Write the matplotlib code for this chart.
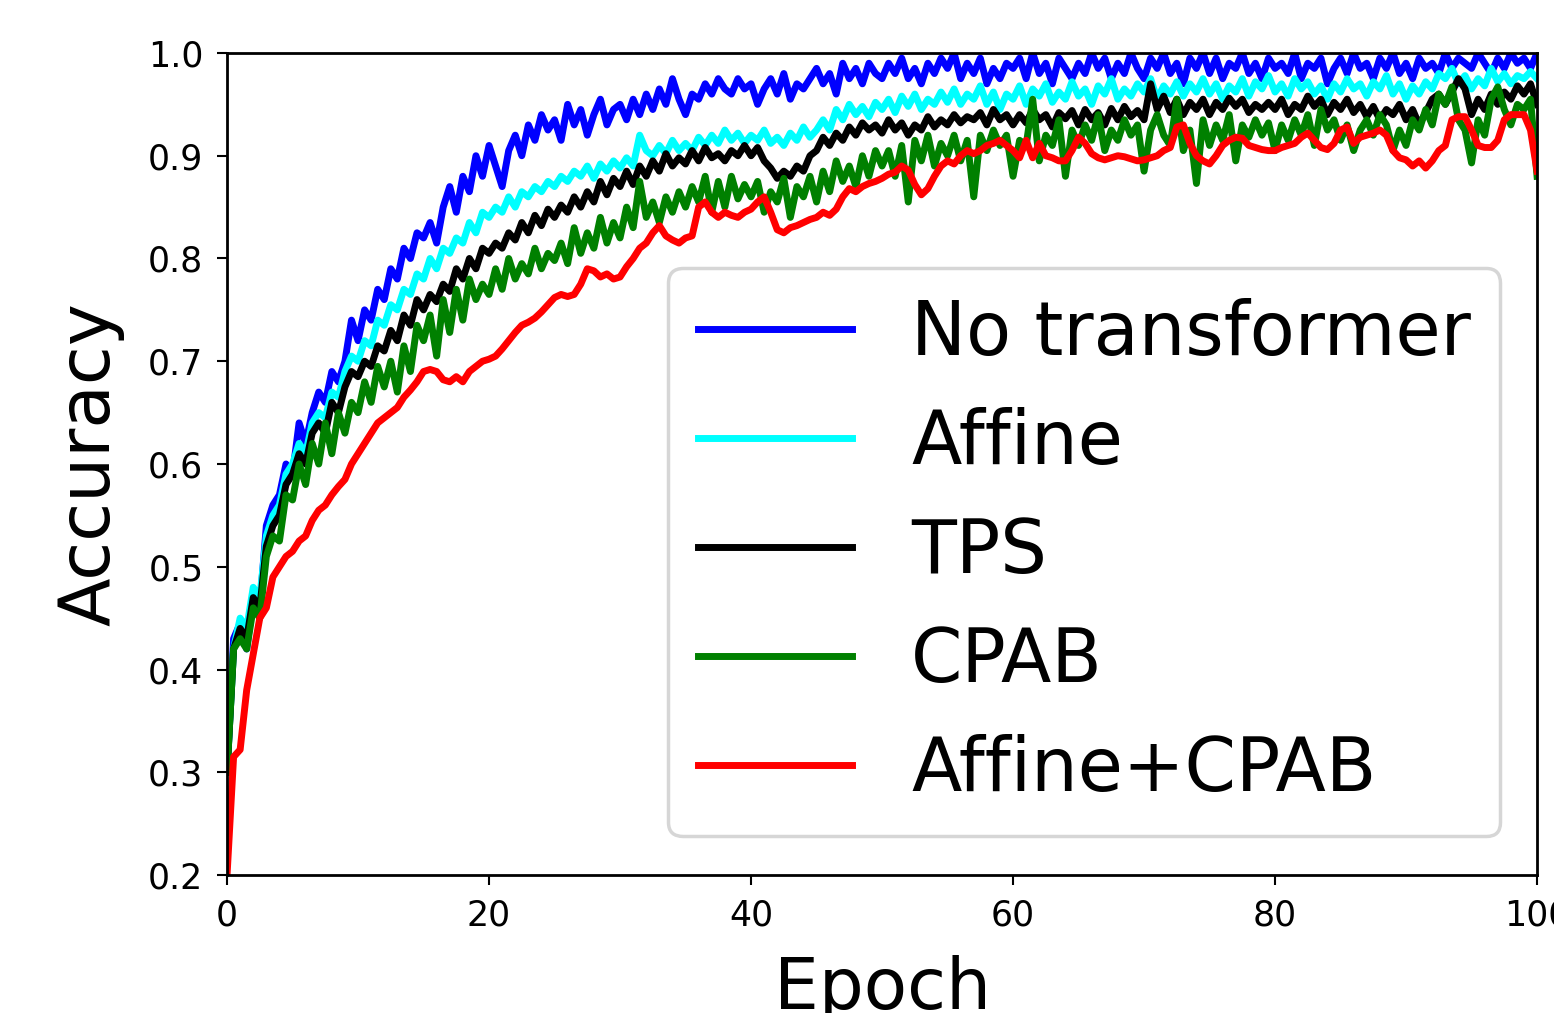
import numpy as np
import matplotlib
matplotlib.use('Agg')
import matplotlib.pyplot as plt

# accuracy per half epoch
no_transformer = [
    0.300, 0.430, 0.445, 0.420, 0.470, 0.460, 0.540, 0.560, 0.570, 0.600,
    0.590, 0.640, 0.620, 0.650, 0.670, 0.660, 0.690, 0.680, 0.700, 0.740,
    0.720, 0.750, 0.740, 0.770, 0.760, 0.790, 0.780, 0.810, 0.800, 0.825,
    0.820, 0.835, 0.815, 0.850, 0.870, 0.845, 0.880, 0.865, 0.900, 0.880,
    0.910, 0.890, 0.870, 0.905, 0.920, 0.900, 0.930, 0.915, 0.940, 0.925,
    0.935, 0.915, 0.950, 0.930, 0.945, 0.920, 0.940, 0.955, 0.930, 0.945,
    0.950, 0.935, 0.955, 0.940, 0.960, 0.945, 0.965, 0.950, 0.975, 0.955,
    0.940, 0.960, 0.955, 0.970, 0.960, 0.975, 0.965, 0.960, 0.975, 0.965,
    0.970, 0.950, 0.965, 0.975, 0.960, 0.980, 0.955, 0.970, 0.965, 0.975,
    0.985, 0.970, 0.980, 0.960, 0.990, 0.975, 0.985, 0.970, 0.990, 0.980,
    0.975, 0.990, 0.980, 0.995, 0.975, 0.985, 0.970, 0.990, 0.980, 0.995,
    0.985, 1.000, 0.975, 0.990, 0.980, 0.995, 0.970, 0.985, 0.975, 0.990,
    0.985, 0.995, 0.975, 1.000, 0.980, 0.990, 0.970, 0.995, 0.985, 0.975,
    0.990, 0.980, 1.000, 0.985, 0.995, 0.975, 0.990, 0.980, 1.000, 0.985,
    0.975, 0.995, 0.985, 1.000, 0.980, 0.990, 0.970, 0.995, 0.985, 1.000,
    0.980, 0.995, 0.975, 0.990, 0.985, 1.000, 0.980, 0.990, 0.975, 0.995,
    0.985, 0.990, 0.980, 1.000, 0.975, 0.990, 0.985, 0.995, 0.970, 0.985,
    0.995, 0.980, 1.000, 0.985, 0.990, 0.975, 0.995, 0.985, 1.000, 0.980,
    0.990, 0.975, 0.995, 0.985, 0.990, 0.980, 1.000, 0.985, 0.995, 0.990,
    0.985, 1.000, 0.990, 0.980, 0.995, 0.985, 1.000, 0.990, 0.995, 0.985,
    1.000,
]

affine = [
    0.300, 0.420, 0.450, 0.440, 0.480, 0.470, 0.530, 0.550, 0.560, 0.590,
    0.600, 0.620, 0.610, 0.640, 0.650, 0.645, 0.670, 0.665, 0.690, 0.705,
    0.700, 0.720, 0.715, 0.740, 0.735, 0.755, 0.750, 0.770, 0.765, 0.785,
    0.780, 0.800, 0.790, 0.810, 0.805, 0.820, 0.815, 0.835, 0.825, 0.845,
    0.840, 0.850, 0.845, 0.860, 0.850, 0.865, 0.860, 0.870, 0.865, 0.875,
    0.870, 0.880, 0.875, 0.885, 0.880, 0.890, 0.878, 0.892, 0.885, 0.895,
    0.888, 0.898, 0.890, 0.920, 0.905, 0.900, 0.910, 0.902, 0.915, 0.905,
    0.912, 0.905, 0.918, 0.910, 0.920, 0.912, 0.925, 0.915, 0.922, 0.912,
    0.920, 0.915, 0.925, 0.912, 0.918, 0.910, 0.922, 0.915, 0.928, 0.918,
    0.925, 0.935, 0.925, 0.945, 0.935, 0.950, 0.940, 0.948, 0.938, 0.952,
    0.945, 0.955, 0.942, 0.958, 0.948, 0.960, 0.945, 0.955, 0.950, 0.962,
    0.952, 0.965, 0.950, 0.960, 0.955, 0.968, 0.950, 0.962, 0.945, 0.960,
    0.955, 0.968, 0.950, 0.965, 0.958, 0.970, 0.952, 0.962, 0.955, 0.972,
    0.958, 0.965, 0.950, 0.968, 0.960, 0.975, 0.955, 0.965, 0.958, 0.970,
    0.962, 0.975, 0.955, 0.968, 0.960, 0.972, 0.958, 0.970, 0.962, 0.975,
    0.960, 0.970, 0.955, 0.968, 0.962, 0.975, 0.958, 0.972, 0.965, 0.978,
    0.962, 0.970, 0.958, 0.975, 0.965, 0.972, 0.960, 0.968, 0.955, 0.970,
    0.962, 0.975, 0.965, 0.970, 0.958, 0.972, 0.965, 0.978, 0.960, 0.970,
    0.955, 0.968, 0.960, 0.972, 0.965, 0.980, 0.975, 0.985, 0.970, 0.978,
    0.965, 0.975, 0.968, 0.985, 0.972, 0.980, 0.970, 0.978, 0.975, 0.982,
    0.975,
]

tps = [
    0.300, 0.420, 0.440, 0.430, 0.470, 0.460, 0.520, 0.540, 0.550, 0.580,
    0.590, 0.610, 0.600, 0.630, 0.640, 0.630, 0.660, 0.650, 0.675, 0.690,
    0.685, 0.700, 0.695, 0.715, 0.710, 0.730, 0.720, 0.745, 0.735, 0.760,
    0.750, 0.765, 0.758, 0.775, 0.768, 0.790, 0.780, 0.800, 0.790, 0.810,
    0.805, 0.815, 0.810, 0.825, 0.818, 0.835, 0.825, 0.842, 0.832, 0.848,
    0.840, 0.852, 0.845, 0.860, 0.850, 0.865, 0.855, 0.875, 0.862, 0.878,
    0.870, 0.885, 0.872, 0.890, 0.880, 0.895, 0.885, 0.902, 0.890, 0.898,
    0.892, 0.905, 0.895, 0.908, 0.898, 0.902, 0.895, 0.905, 0.900, 0.910,
    0.900, 0.908, 0.895, 0.888, 0.878, 0.885, 0.880, 0.890, 0.885, 0.900,
    0.905, 0.918, 0.910, 0.922, 0.915, 0.928, 0.920, 0.932, 0.925, 0.930,
    0.922, 0.935, 0.925, 0.932, 0.920, 0.930, 0.925, 0.938, 0.928, 0.935,
    0.930, 0.940, 0.932, 0.938, 0.935, 0.942, 0.930, 0.945, 0.935, 0.940,
    0.930, 0.940, 0.932, 0.945, 0.935, 0.940, 0.928, 0.942, 0.936, 0.944,
    0.930, 0.945, 0.935, 0.942, 0.930, 0.946, 0.935, 0.948, 0.938, 0.944,
    0.935, 0.970, 0.945, 0.958, 0.942, 0.955, 0.940, 0.952, 0.945, 0.955,
    0.940, 0.952, 0.945, 0.956, 0.948, 0.955, 0.942, 0.950, 0.945, 0.952,
    0.945, 0.955, 0.940, 0.950, 0.945, 0.958, 0.948, 0.955, 0.940, 0.952,
    0.945, 0.955, 0.942, 0.950, 0.938, 0.948, 0.935, 0.945, 0.940, 0.950,
    0.935, 0.945, 0.930, 0.942, 0.955, 0.960, 0.950, 0.962, 0.975, 0.965,
    0.940, 0.955, 0.945, 0.960, 0.950, 0.962, 0.955, 0.968, 0.960, 0.970,
    0.950,
]

cpab = [
    0.300, 0.420, 0.430, 0.420, 0.460, 0.450, 0.510, 0.530, 0.525, 0.570,
    0.565, 0.600, 0.580, 0.620, 0.600, 0.640, 0.610, 0.650, 0.630, 0.660,
    0.650, 0.680, 0.660, 0.695, 0.675, 0.700, 0.670, 0.715, 0.690, 0.735,
    0.720, 0.745, 0.705, 0.760, 0.728, 0.770, 0.740, 0.780, 0.760, 0.775,
    0.765, 0.790, 0.770, 0.800, 0.780, 0.795, 0.785, 0.810, 0.790, 0.805,
    0.798, 0.815, 0.795, 0.830, 0.805, 0.825, 0.810, 0.840, 0.815, 0.835,
    0.820, 0.850, 0.830, 0.875, 0.840, 0.855, 0.835, 0.860, 0.845, 0.865,
    0.850, 0.870, 0.855, 0.880, 0.845, 0.875, 0.850, 0.880, 0.858, 0.872,
    0.860, 0.875, 0.845, 0.865, 0.855, 0.878, 0.840, 0.870, 0.860, 0.880,
    0.855, 0.885, 0.865, 0.895, 0.875, 0.890, 0.870, 0.900, 0.880, 0.905,
    0.890, 0.905, 0.880, 0.910, 0.855, 0.915, 0.895, 0.920, 0.890, 0.912,
    0.900, 0.920, 0.895, 0.915, 0.860, 0.920, 0.905, 0.925, 0.910, 0.920,
    0.880, 0.915, 0.910, 0.955, 0.895, 0.920, 0.910, 0.935, 0.880, 0.925,
    0.910, 0.930, 0.915, 0.940, 0.905, 0.925, 0.915, 0.935, 0.920, 0.930,
    0.885, 0.925, 0.940, 0.920, 0.910, 0.955, 0.905, 0.925, 0.873, 0.935,
    0.910, 0.930, 0.915, 0.940, 0.895, 0.930, 0.918, 0.935, 0.920, 0.932,
    0.905, 0.930, 0.915, 0.935, 0.920, 0.940, 0.910, 0.945, 0.925, 0.935,
    0.915, 0.930, 0.905, 0.925, 0.935, 0.920, 0.940, 0.930, 0.905, 0.925,
    0.910, 0.935, 0.925, 0.945, 0.930, 0.960, 0.950, 0.967, 0.935, 0.925,
    0.893, 0.935, 0.920, 0.955, 0.967, 0.945, 0.930, 0.950, 0.945, 0.955,
    0.880,
]

affine_cpab = [
    0.200, 0.315, 0.322, 0.380, 0.415, 0.450, 0.460, 0.490, 0.500, 0.510,
    0.515, 0.525, 0.530, 0.545, 0.555, 0.560, 0.570, 0.578, 0.585, 0.600,
    0.610, 0.620, 0.630, 0.640, 0.645, 0.650, 0.655, 0.665, 0.672, 0.680,
    0.690, 0.692, 0.690, 0.682, 0.680, 0.685, 0.680, 0.690, 0.695, 0.700,
    0.702, 0.705, 0.712, 0.720, 0.728, 0.735, 0.738, 0.742, 0.748, 0.755,
    0.762, 0.765, 0.763, 0.765, 0.775, 0.790, 0.788, 0.782, 0.785, 0.780,
    0.782, 0.792, 0.800, 0.810, 0.815, 0.825, 0.832, 0.822, 0.818, 0.815,
    0.820, 0.822, 0.850, 0.855, 0.845, 0.840, 0.845, 0.842, 0.840, 0.845,
    0.848, 0.855, 0.860, 0.845, 0.828, 0.825, 0.830, 0.832, 0.835, 0.838,
    0.840, 0.845, 0.842, 0.848, 0.860, 0.868, 0.865, 0.870, 0.873, 0.875,
    0.878, 0.882, 0.884, 0.890, 0.886, 0.872, 0.862, 0.868, 0.880, 0.890,
    0.895, 0.892, 0.900, 0.905, 0.902, 0.905, 0.910, 0.912, 0.915, 0.910,
    0.905, 0.898, 0.915, 0.898, 0.912, 0.900, 0.898, 0.895, 0.895, 0.905,
    0.918, 0.912, 0.902, 0.898, 0.896, 0.898, 0.900, 0.899, 0.897, 0.895,
    0.896, 0.898, 0.900, 0.905, 0.908, 0.928, 0.930, 0.912, 0.900, 0.895,
    0.892, 0.900, 0.910, 0.915, 0.918, 0.917, 0.910, 0.908, 0.906, 0.905,
    0.905, 0.908, 0.910, 0.912, 0.918, 0.922, 0.915, 0.908, 0.906, 0.912,
    0.925, 0.928, 0.912, 0.918, 0.920, 0.922, 0.925, 0.920, 0.905, 0.898,
    0.896, 0.890, 0.895, 0.888, 0.895, 0.905, 0.910, 0.935, 0.938, 0.938,
    0.925, 0.910, 0.908, 0.908, 0.915, 0.935, 0.940, 0.940, 0.940, 0.925,
    0.885,
]

series = [
    ('No transformer', no_transformer, 'blue'),
    ('Affine', affine, 'cyan'),
    ('TPS', tps, 'black'),
    ('CPAB', cpab, 'green'),
    ('Affine+CPAB', affine_cpab, 'red'),
]

fig = plt.figure(figsize=(15.54, 10.13), dpi=100)
ax = fig.add_axes([0.1461, 0.1362, 0.8430, 0.8115])

for name, vals, color in series:
    epochs = np.linspace(0, 100, len(vals))
    ax.plot(epochs, vals, color=color, linewidth=5, label=name)

ax.set_xlim(0, 100)
ax.set_ylim(0.2, 1.0)
ax.set_xticks([0, 20, 40, 60, 80, 100])
ax.set_yticks([0.2, 0.3, 0.4, 0.5, 0.6, 0.7, 0.8, 0.9, 1.0])
ax.tick_params(labelsize=25, length=7, width=1.5, pad=10)
for sp in ax.spines.values():
    sp.set_linewidth(2)

ax.set_xlabel('Epoch', fontsize=51, labelpad=16)
ax.set_ylabel('Accuracy', fontsize=51, labelpad=17)

leg = ax.legend(loc='lower right', bbox_to_anchor=(0.972, 0.047),
                borderaxespad=0, fontsize=53, handlelength=2.1,
                handletextpad=0.8, labelspacing=0.49)
leg.get_frame().set_linewidth(2.5)
for line in leg.get_lines():
    line.set_linewidth(5)

fig.savefig('out.png', dpi=100)
